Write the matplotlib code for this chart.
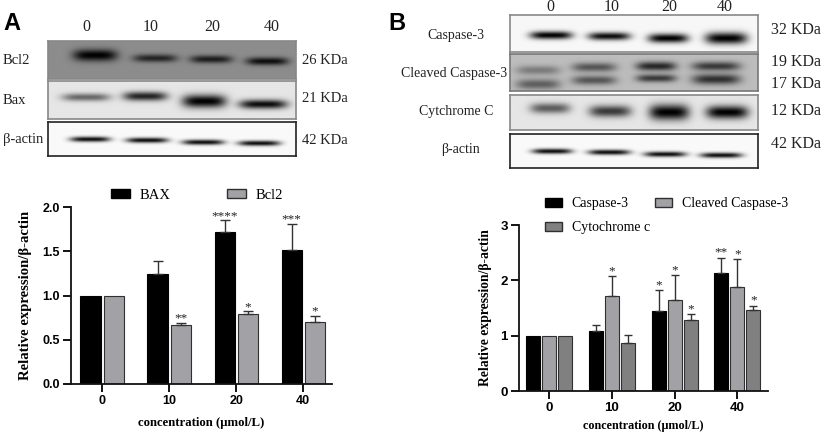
import numpy as np
import matplotlib
matplotlib.use('Agg')
import matplotlib.pyplot as plt
from matplotlib.patches import Patch

W, H = 823, 434
SERIF = 'Liberation Serif'
SANS = 'Liberation Sans'

# == chart data ==
doses = ['0', '10', '20', '40']
bax = [1.0, 1.24, 1.72, 1.51]
bax_err = [0, 0.15, 0.13, 0.30]
bax_stars = ['', '', '****', '***']
bcl2 = [1.0, 0.67, 0.79, 0.70]
bcl2_err = [0, 0.02, 0.03, 0.07]
bcl2_stars = ['', '**', '*', '*']

casp3 = [1.0, 1.08, 1.44, 2.13]
casp3_err = [0, 0.12, 0.38, 0.28]
casp3_stars = ['', '', '*', '**']
cleaved = [1.0, 1.72, 1.65, 1.88]
cleaved_err = [0, 0.36, 0.44, 0.50]
cleaved_stars = ['', '*', '*', '*']
cytc = [1.0, 0.87, 1.28, 1.47]
cytc_err = [0, 0.14, 0.11, 0.07]
cytc_stars = ['', '', '*', '*']

# == blot bands: x centre, y centre, width, height, darkness (pixels in the panel) ==
bands_bcl2 = [(47, 14, 44, 9, 1.0), (107, 17, 44, 6, 0.75), (163, 18, 42, 6, 0.8), (219, 20, 42, 6, 0.9)]
bands_bax = [(38, 16, 48, 6, 0.55), (97, 15, 44, 7, 0.85), (156, 20, 44, 10, 1.0), (215, 23, 48, 7, 0.95)]
bands_actin_a = [(42, 17, 40, 4, 0.95), (99, 18, 42, 4, 0.95), (155, 20, 42, 4, 0.95), (211, 21, 42, 4, 0.95)]
bands_casp = [(41, 20, 42, 6, 1.0), (99, 21, 42, 6, 0.95), (158, 23, 40, 7, 1.0), (216, 23, 42, 9, 1.0)]
bands_cleaved = [(28, 16, 44, 7, 0.35), (28, 30, 44, 8, 0.5), (84, 13, 44, 7, 0.55), (84, 26, 44, 7, 0.55),
                 (146, 12, 40, 7, 0.8), (146, 24, 40, 6, 0.7), (206, 12, 48, 7, 0.7), (206, 25, 48, 8, 0.75)]
bands_cyto = [(40, 13, 40, 8, 0.6), (100, 16, 42, 9, 0.75), (159, 17, 40, 12, 1.0), (217, 17, 42, 10, 1.0)]
bands_actin_b = [(42, 17, 40, 4, 0.95), (99, 18, 42, 4, 0.95), (155, 20, 42, 4, 0.95), (211, 21, 42, 4, 0.95)]


def px_axes(x0, y0, x1, y1):
    # axes placed from pixel box, y counted from top like in the picture
    return fig.add_axes([x0 / W, 1 - y1 / H, (x1 - x0) / W, (y1 - y0) / H])


def blot(box, bands, bg, edge, lw=1.2):
    ax = px_axes(*box)
    w, h = box[2] - box[0], box[3] - box[1]
    xx, yy = np.meshgrid(np.arange(w * 2) / 2, np.arange(h * 2) / 2)
    img = np.zeros_like(xx) + bg
    for cx, cy, bw, bh, dark in bands:
        r = ((xx - cx) / (bw / 2)) ** 4 + ((yy - cy) / (bh * 0.65)) ** 2
        img = img * (1 - dark * np.exp(-r))
    ax.imshow(img, cmap='gray', vmin=0, vmax=1, aspect='auto', extent=(0, w, h, 0),
              interpolation='bilinear')
    ax.set_xticks([])
    ax.set_yticks([])
    for s in ax.spines.values():
        s.set_color(edge)
        s.set_linewidth(lw)


def px_text(x, y, s, size=10.5, ha='left', **kw):
    fig.text(x / W, 1 - y / H, s, fontsize=size, ha=ha, va='center', family=SERIF, color='#222222', **kw)


def stars(ax, x, tops, errs, labels, offset):
    for xi, t, e, lab in zip(x, tops, errs, labels):
        if lab:
            ax.text(xi, t + e + offset, lab, ha='center', va='center', fontsize=9.5, family=SERIF, color='#222222')


def style_axes(ax, yticks, ylim, xlim, size):
    ax.set_xlim(*xlim)
    ax.set_ylim(*ylim)
    ax.set_yticks(yticks)
    ax.set_xticks(range(len(doses)))
    ax.set_xticklabels(doses)
    ax.patch.set_alpha(0)
    for s in ['top', 'right']:
        ax.spines[s].set_visible(False)
    for s in ['left', 'bottom']:
        ax.spines[s].set_linewidth(1.3)
        ax.spines[s].set_color('#111111')
    ax.tick_params(width=1.3, length=6, labelsize=size, pad=2)
    for t in ax.get_xticklabels() + ax.get_yticklabels():
        t.set_family(SANS)
        t.set_fontweight('bold')


fig = plt.figure(figsize=(W / 100, H / 100), dpi=100)

# == panel A blots ==
blot((48, 41, 296, 79), bands_bcl2, 0.55, '#888888')
blot((48, 81, 296, 119), bands_bax, 0.90, '#888888')
blot((48, 122, 296, 156), bands_actin_a, 0.98, '#222222')

fig.text(3 / W, 1 - 23 / H, 'A', fontsize=17, fontweight='bold', family=SANS, va='center')
for x, d in zip([86, 151, 212, 272], doses):
    px_text(x, 27, d, size=11.5, ha='center')
for y, s in zip([60, 100, 139], ['Bcl2', 'Bax', 'β-actin']):
    px_text(3, y, s, size=10.5)
for y, s in zip([61, 99, 140], ['26 KDa', '21 KDa', '42 KDa']):
    px_text(302, y, s, size=10.5)

# == panel A chart ==
ax_a = px_axes(71, 207, 332, 384)
x = np.arange(4)
bw = 0.30
gap = 0.022
xa = x - bw / 2 - gap
xb = x + bw / 2 + gap
ax_a.bar(xa, bax, bw, color='black', edgecolor='black', lw=0.8)
ax_a.bar(xb, bcl2, bw, color='#a2a2a6', edgecolor='#303030', lw=0.8)
ax_a.errorbar(xa[1:], bax[1:], yerr=[[0] * 3, bax_err[1:]], fmt='none', ecolor='#333333', elinewidth=1, capsize=3.5)
ax_a.errorbar(xb[1:], bcl2[1:], yerr=[[0] * 3, bcl2_err[1:]], fmt='none', ecolor='#333333', elinewidth=1, capsize=3.5)
stars(ax_a, xa, bax, bax_err, bax_stars, 0.05)
stars(ax_a, xb, bcl2, bcl2_err, bcl2_stars, 0.05)
style_axes(ax_a, [0, 0.5, 1.0, 1.5, 2.0], (0, 2.0), (-0.463, 3.43), 9)
ax_a.set_yticklabels(['0.0', '0.5', '1.0', '1.5', '2.0'], family=SANS, fontweight='bold')
ax_a.set_ylabel('Relative expression/β-actin', fontsize=10.6, fontweight='bold', family=SERIF)
ax_a.yaxis.set_label_coords(-0.149, 0.5)
ax_a.set_xlabel('concentration (μmol/L)', fontsize=9.2, fontweight='bold', family=SERIF, labelpad=7)
ax_a.legend(handles=[Patch(fc='black', ec='black', label='BAX'), Patch(fc='#a2a2a6', ec='#303030', label='Bcl2')],
            ncols=2, frameon=False, loc='lower left', bbox_to_anchor=(0.153, 1.03), borderpad=0, borderaxespad=0,
            columnspacing=3.9, handlelength=1.3, handleheight=0.6, handletextpad=0.65,
            prop={'family': SERIF, 'size': 10.5})

# == panel B blots ==
blot((510, 15, 758, 52), bands_casp, 0.97, '#888888')
blot((510, 54, 758, 91), bands_cleaved, 0.74, '#777777')
blot((510, 95, 758, 130), bands_cyto, 0.90, '#888888')
blot((510, 134, 758, 168), bands_actin_b, 0.98, '#222222')

fig.text(388 / W, 1 - 23 / H, 'B', fontsize=17, fontweight='bold', family=SANS, va='center')
for x_, d in zip([550, 612, 669, 725], doses):
    px_text(x_, 7, d, size=11.5, ha='center')
for x_, y, s in zip([456, 454, 456, 460],
                    [35, 73, 112, 149],
                    ['Caspase-3', 'Cleaved Caspase-3', 'Cytchrome C', 'β-actin']):
    px_text(x_, y, s, size=10, ha='center')
for y, s in zip([30, 62, 84, 111, 144], ['32 KDa', '19 KDa', '17 KDa', '12 KDa', '42 KDa']):
    px_text(771, y, s, size=11.5)

# == panel B chart ==
ax_b = px_axes(519, 225, 768, 391)
bw2 = 0.223
step = 0.255
x1 = x - step
x2 = x
x3 = x + step
ax_b.bar(x1, casp3, bw2, color='black', edgecolor='black', lw=0.8)
ax_b.bar(x2, cleaved, bw2, color='#a2a2a6', edgecolor='#303030', lw=0.8)
ax_b.bar(x3, cytc, bw2, color='#808080', edgecolor='#303030', lw=0.8)
for xs, v, e in [(x1, casp3, casp3_err), (x2, cleaved, cleaved_err), (x3, cytc, cytc_err)]:
    ax_b.errorbar(xs[1:], v[1:], yerr=[[0] * 3, e[1:]], fmt='none', ecolor='#333333', elinewidth=1, capsize=3)
stars(ax_b, x1, casp3, casp3_err, casp3_stars, 0.09)
stars(ax_b, x2, cleaved, cleaved_err, cleaved_stars, 0.09)
stars(ax_b, x3, cytc, cytc_err, cytc_stars, 0.09)
style_axes(ax_b, [0, 1, 2, 3], (0, 3), (-0.48, 3.49), 9.5)
ax_b.set_ylabel('Relative expression/β-actin', fontsize=9.8, fontweight='bold', family=SERIF)
ax_b.yaxis.set_label_coords(-0.108, 0.5)
ax_b.set_xlabel('concentration (μmol/L)', fontsize=8.7, fontweight='bold', family=SERIF, labelpad=4)
ax_b.legend(handles=[Patch(fc='black', ec='black', label='Caspase-3'),
                     Patch(fc='#808080', ec='#303030', label='Cytochrome c'),
                     Patch(fc='#a2a2a6', ec='#303030', label='Cleaved Caspase-3')],
            ncols=2, frameon=False, loc='lower left', bbox_to_anchor=(0.104, 0.945), borderpad=0, borderaxespad=0,
            columnspacing=0.4, handlelength=1.22, handleheight=0.6, handletextpad=0.7, labelspacing=0.8,
            prop={'family': SERIF, 'size': 10})

fig.savefig('out.png', dpi=100)
